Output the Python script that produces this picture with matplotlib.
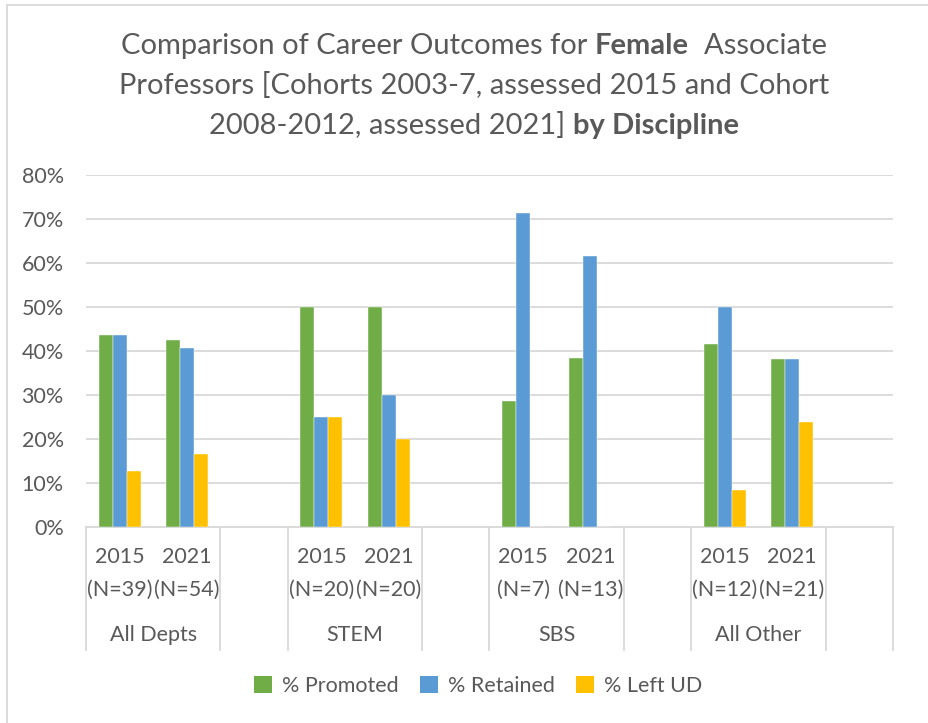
import matplotlib
matplotlib.use("Agg")
import matplotlib.pyplot as plt
from matplotlib.patches import Patch
from matplotlib.lines import Line2D
import matplotlib.transforms as mtransforms
import numpy as np

# data (percent)
groups = ["All Depts", "STEM", "SBS", "All Other"]
years = ["2015", "2021"]
n_labels = ["(N=39)", "(N=54)", "(N=20)", "(N=20)", "(N=7)", "(N=13)", "(N=12)", "(N=21)"]
promoted = [43.6, 42.6, 50.0, 50.0, 28.6, 38.5, 41.7, 38.1]
retained = [43.6, 40.7, 25.0, 30.0, 71.4, 61.5, 50.0, 38.1]
left_ud = [12.8, 16.7, 25.0, 20.0, 0.0, 0.0, 8.3, 23.8]
series_names = ["% Promoted", "% Retained", "% Left UD"]
colors = ["#70AD47", "#5B9BD5", "#FFC000"]

txt = "#595959"
grid_c = "#D9D9D9"
fs = 15.5
plt.rcParams['font.family'] = ['Lato', 'DejaVu Sans']

fig = plt.figure(figsize=(9.29, 7.23), dpi=100)
ax = fig.add_axes([86 / 929, 1 - 527 / 723, 807 / 929, 352 / 723])

# each group has 2 year slots plus one blank slot
slot = np.array([g * 3 + y for g in range(len(groups)) for y in range(len(years))])
w = 0.208
for i, (vals, c, name) in enumerate(zip([promoted, retained, left_ud], colors, series_names)):
    ax.bar(slot + (i - 1) * w, np.array(vals) / 100, width=w, color=c,
           edgecolor="white", linewidth=0.3, label=name, zorder=3)

ax.set_xlim(-0.5, 11.5)
ax.set_ylim(0, 0.8)
ax.set_yticks(np.arange(0, 0.81, 0.1))
ax.set_yticklabels([f"{int(round(v * 100))}%" for v in np.arange(0, 0.81, 0.1)])
ax.yaxis.grid(True, color=grid_c, linewidth=1.3, zorder=0)
ax.tick_params(axis='y', length=0, pad=16, labelsize=fs, labelcolor=txt)
ax.set_xticks([])
for s in ["left", "right", "top"]:
    ax.spines[s].set_visible(False)
ax.spines["bottom"].set_color(grid_c)
ax.spines["bottom"].set_linewidth(1.3)

# multi-level category axis
trans = mtransforms.blended_transform_factory(ax.transData, ax.transAxes)
px = 1 / 352
for k, x in enumerate(slot):
    ax.text(x, -30 * px, years[k % 2], transform=trans, ha="center", va="center",
            fontsize=fs, color=txt)
    ax.text(x, -63 * px, n_labels[k], transform=trans, ha="center", va="center",
            fontsize=fs, color=txt)
for g, name in enumerate(groups):
    ax.text(g * 3 + 0.5, -108 * px, name, transform=trans, ha="center", va="center",
            fontsize=fs, color=txt)
for b in [-0.5, 1.5, 2.5, 4.5, 5.5, 7.5, 8.5, 10.5, 11.5]:
    ax.add_line(Line2D([b, b], [0, -123 * px], transform=trans, color=grid_c,
                       linewidth=1.3, clip_on=False))

# title with bold words
title_lines = [
    [("Comparison of Career Outcomes for ", "normal"), ("Female", "bold"), ("  Associate", "normal")],
    [("Professors [Cohorts 2003-7, assessed 2015 and Cohort", "normal")],
    [("2008-2012, assessed 2021] ", "normal"), ("by Discipline", "bold")],
]
renderer = fig.canvas.get_renderer()
for li, parts in enumerate(title_lines):
    y = 1 - (46 + li * 40) / 723
    pieces = []
    total = 0
    for s, wgt in parts:
        t = fig.text(0, y, s, fontsize=21, fontweight=wgt, color=txt, va="center", ha="left")
        bb = t.get_window_extent(renderer=renderer)
        pieces.append((t, bb.width))
        total += bb.width
    x0 = 474 - total / 2
    for t, wd in pieces:
        t.set_x(x0 / 929)
        x0 += wd

handles = [Patch(facecolor=c, label=n) for c, n in zip(colors, series_names)]
fig.legend(handles=handles, loc="center", bbox_to_anchor=(478 / 929, 1 - 686 / 723), ncol=3,
           frameon=False, fontsize=fs, labelcolor=txt, handlelength=0.85, handleheight=0.85,
           handletextpad=0.45, columnspacing=1.0)

# chart border (top and left visible)
fig.add_artist(Line2D([7 / 929, 1], [1 - 5 / 723, 1 - 5 / 723], color=grid_c, linewidth=1.3))
fig.add_artist(Line2D([7 / 929, 7 / 929], [0, 1 - 5 / 723], color=grid_c, linewidth=1.3))

fig.savefig("out.png", dpi=100, facecolor="white")
